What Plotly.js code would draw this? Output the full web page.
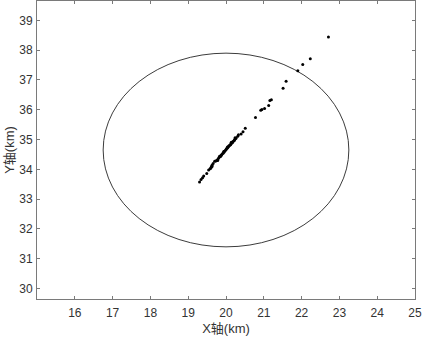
<!DOCTYPE html>
<html>
<head>
<meta charset="utf-8">
<script src="https://cdn.plot.ly/plotly-3.0.1.min.js"></script>
<style>html,body{margin:0;padding:0;background:#fff;}#chart{width:425px;height:339px;}</style>
</head>
<body>
<div id="chart"></div>
<script>
// Scatter points (km)
const xPts = [22.71, 22.23, 22.03, 21.90, 21.59, 21.51, 21.20, 21.16, 21.13, 21.02, 20.95, 20.92, 20.78,
  20.51, 20.45, 20.40, 20.33, 20.31,
  20.27, 20.25, 20.24, 20.23, 20.22, 20.20, 20.18, 20.17, 20.15, 20.14, 20.13, 20.12, 20.10, 20.08, 20.06,
  20.05, 20.04, 20.03, 20.01, 20.00, 19.98, 19.96, 19.95, 19.94, 19.93, 19.91, 19.89, 19.87, 19.86, 19.84,
  19.83, 19.81, 19.79, 19.78, 19.76, 19.73, 19.70, 19.66, 19.63, 19.63, 19.61, 19.60, 19.58,
  19.54, 19.49, 19.41, 19.38, 19.34, 19.30];
const yPts = [38.44, 37.71, 37.52, 37.31, 36.96, 36.72, 36.34, 36.31, 36.14, 36.04, 36.01, 35.98, 35.74,
  35.38, 35.26, 35.19, 35.16, 35.11,
  35.05, 35.03, 35.06, 35.00, 34.97, 34.95, 34.93, 34.90, 34.88, 34.91, 34.86, 34.83, 34.81, 34.79, 34.76,
  34.74, 34.75, 34.71, 34.69, 34.66, 34.63, 34.61, 34.58, 34.60, 34.55, 34.53, 34.50, 34.47, 34.44, 34.42,
  34.44, 34.39, 34.35, 34.30, 34.31, 34.28, 34.27, 34.20, 34.14, 34.10, 34.08, 34.05, 34.02,
  33.98, 33.86, 33.78, 33.72, 33.66, 33.58];
// Circle
const circleCenter = [20.0, 34.65];
const circleRadius = 3.25;
// Axes
const xTicks = [16, 17, 18, 19, 20, 21, 22, 23, 24, 25];
const yTicks = [30, 31, 32, 33, 34, 35, 36, 37, 38, 39];
const xRange = [15, 25];
const yRange = [29.65, 39.65];

const font = 'Liberation Sans, Arial, Noto Sans CJK SC, sans-serif';
const axisCommon = {
  showgrid: false, zeroline: false, showline: true, linecolor: '#7a7a7a', linewidth: 1,
  mirror: 'ticks', ticks: 'inside', ticklen: 3, tickcolor: '#7a7a7a', tickwidth: 1,
  tickfont: {family: font, size: 12, color: '#333'}
};

const data = [{
  type: 'scatter', mode: 'markers', x: xPts, y: yPts,
  marker: {color: '#000', size: 3}, hoverinfo: 'skip'
}];

const layout = {
  width: 425, height: 339,
  margin: {l: 37, r: 10, t: 1, b: 40},
  paper_bgcolor: '#fff', plot_bgcolor: '#fff',
  showlegend: false,
  xaxis: Object.assign({}, axisCommon, {
    range: xRange, tickvals: xTicks, ticktext: xTicks.map(String), ticklabelstandoff: 3,
    title: {text: 'X轴(km)', font: {family: font, size: 13, color: '#333'}, standoff: 4}
  }),
  yaxis: Object.assign({}, axisCommon, {
    range: yRange, tickvals: yTicks, ticktext: yTicks.map(String), ticklabelstandoff: 1,
    title: {text: 'Y轴(km)', font: {family: font, size: 13, color: '#333'}, standoff: 1}
  }),
  shapes: [{
    type: 'circle', xref: 'x', yref: 'y',
    x0: circleCenter[0] - circleRadius, x1: circleCenter[0] + circleRadius,
    y0: circleCenter[1] - circleRadius, y1: circleCenter[1] + circleRadius,
    line: {color: '#3c3c3c', width: 1}, layer: 'below'
  }]
};

Plotly.newPlot('chart', data, layout, {displayModeBar: false, staticPlot: true});
</script>
</body>
</html>
